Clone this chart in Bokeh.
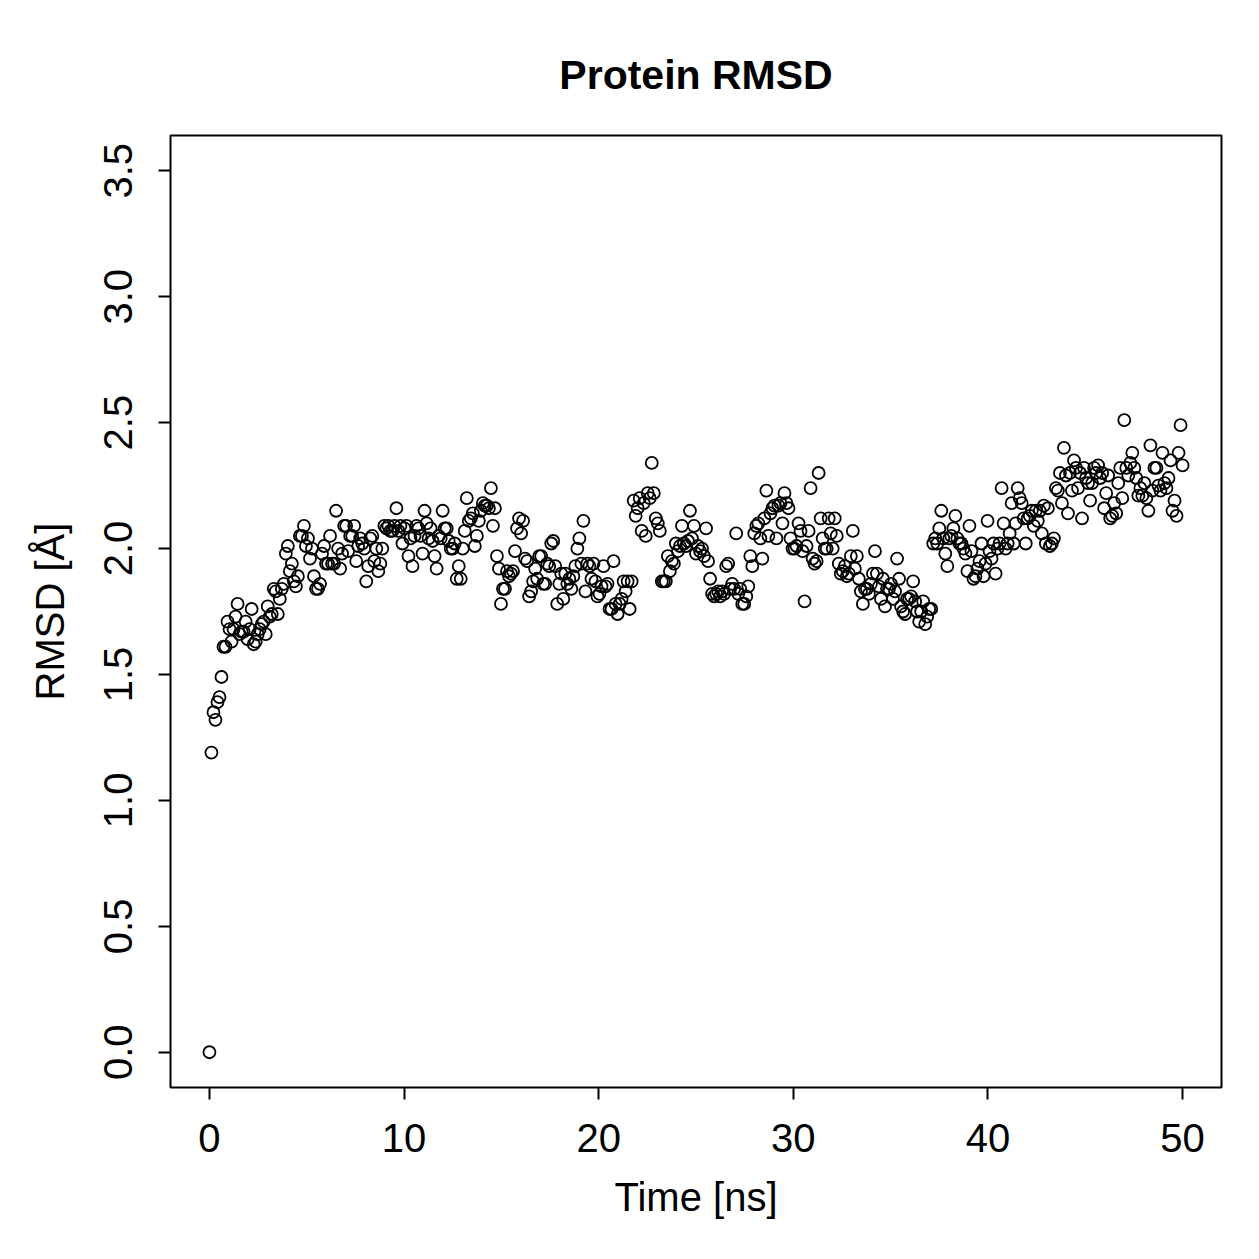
import numpy as np
from bokeh.plotting import figure
from bokeh.models import Range1d, FixedTicker, ColumnDataSource, NumeralTickFormatter
from bokeh.embed import file_html
from bokeh.resources import INLINE

rmsd = [
    0.00, 1.19, 1.35, 1.32, 1.39, 1.41, 1.49, 1.61, 1.61, 1.71, 1.68, 1.63, 1.68, 1.73, 1.78, 1.66,
    1.67, 1.67, 1.71, 1.64, 1.68, 1.76, 1.62, 1.63, 1.66, 1.68, 1.70, 1.71, 1.66, 1.77, 1.73, 1.74,
    1.84, 1.83, 1.74, 1.80, 1.84, 1.86, 1.98, 2.01, 1.91, 1.94, 1.87, 1.85, 1.89, 2.05, 2.05, 2.09,
    2.01, 2.04, 1.96, 2.00, 1.89, 1.84, 1.84, 1.86, 1.98, 2.01, 1.94, 1.94, 2.05, 1.94, 1.94, 2.15,
    2.00, 1.92, 1.98, 2.09, 2.09, 1.99, 2.05, 2.05, 2.09, 1.95, 2.01, 2.04, 2.02, 2.00, 1.87, 1.93,
    2.04, 2.05, 1.95, 2.00, 1.91, 1.94, 2.00, 2.09, 2.08, 2.09, 2.07, 2.07, 2.09, 2.16, 2.07, 2.09,
    2.02, 2.08, 2.09, 1.97, 2.04, 1.93, 2.05, 2.09, 2.08, 2.05, 1.98, 2.15, 2.10, 2.04, 2.08, 2.03,
    1.97, 1.92, 2.05, 2.04, 2.15, 2.08, 2.08, 2.03, 2.00, 2.00, 2.02, 1.88, 1.93, 1.88, 2.00, 2.07,
    2.20, 2.11, 2.12, 2.14, 2.01, 2.05, 2.11, 2.15, 2.18, 2.17, 2.17, 2.16, 2.24, 2.09, 2.16, 1.97,
    1.92, 1.78, 1.84, 1.84, 1.91, 1.89, 1.90, 1.91, 1.99, 2.08, 2.12, 2.06, 2.11, 1.96, 1.95, 1.81,
    1.83, 1.87, 1.92, 1.88, 1.97, 1.97, 1.86, 1.86, 1.94, 1.93, 2.02, 2.03, 1.93, 1.78, 1.86, 1.90,
    1.80, 1.90, 1.86, 1.88, 1.84, 1.89, 1.93, 2.00, 2.04, 1.94, 2.11, 1.83, 1.94, 1.93, 1.88, 1.94,
    1.87, 1.81, 1.82, 1.85, 1.93, 1.85, 1.86, 1.76, 1.76, 1.95, 1.78, 1.74, 1.78, 1.80, 1.87, 1.83,
    1.87, 1.76, 1.87, 2.19, 2.13, 2.16, 2.20, 2.07, 2.18, 2.05, 2.22, 2.20, 2.34, 2.22, 2.12, 2.10,
    2.07, 1.87, 1.87, 1.87, 1.97, 1.91, 1.95, 1.94, 2.02, 1.99, 2.01, 2.09, 2.02, 2.01, 2.03, 2.15,
    2.04, 2.09, 1.98, 2.01, 1.99, 2.00, 1.97, 2.08, 1.95, 1.88, 1.82, 1.81, 1.82, 1.83, 1.81, 1.83,
    1.82, 1.93, 1.94, 1.84, 1.86, 1.84, 2.06, 1.82, 1.84, 1.78, 1.78, 1.81, 1.85, 1.97, 1.93, 2.06,
    2.09, 2.10, 2.04, 1.96, 2.12, 2.23, 2.05, 2.14, 2.16, 2.17, 2.04, 2.17, 2.18, 2.10, 2.22, 2.18,
    2.16, 2.04, 2.00, 2.00, 2.01, 2.10, 2.07, 1.99, 1.79, 2.01, 2.07, 2.24, 1.96, 1.94, 1.95, 2.30,
    2.12, 2.04, 2.00, 2.00, 2.12, 2.06, 2.00, 2.12, 2.05, 1.94, 1.90, 1.91, 1.93, 1.89, 1.90, 1.97,
    2.07, 1.92, 1.97, 1.88, 1.83, 1.78, 1.84, 1.84, 1.82, 1.86, 1.90, 1.99, 1.90, 1.85, 1.80, 1.88,
    1.77, 1.84, 1.84, 1.86, 1.80, 1.83, 1.96, 1.88, 1.77, 1.75, 1.74, 1.80, 1.80, 1.81, 1.87, 1.79,
    1.75, 1.71, 1.75, 1.79, 1.70, 1.73, 1.76, 1.76, 2.02, 2.04, 2.02, 2.08, 2.15, 2.04, 1.98, 1.93,
    2.04, 2.05, 2.08, 2.13, 2.04, 2.02, 2.02, 2.00, 1.98, 1.91, 2.09, 1.99, 1.88, 1.89, 1.92, 1.95,
    2.02, 1.89, 1.94, 2.11, 1.99, 1.96, 2.02, 1.90, 2.00, 2.02, 2.24, 2.10, 2.00, 2.02, 2.06, 2.18,
    2.02, 2.10, 2.24, 2.20, 2.18, 2.12, 2.02, 2.12, 2.13, 2.15, 2.09, 2.15, 2.11, 2.15, 2.06, 2.17,
    2.02, 2.16, 2.01, 2.02, 2.04, 2.24, 2.23, 2.30, 2.18, 2.40, 2.29, 2.14, 2.30, 2.23, 2.35, 2.32,
    2.24, 2.30, 2.12, 2.32, 2.28, 2.26, 2.19, 2.26, 2.32, 2.30, 2.33, 2.28, 2.30, 2.16, 2.22, 2.29,
    2.12, 2.13, 2.18, 2.14, 2.26, 2.32, 2.20, 2.51, 2.32, 2.29, 2.34, 2.38, 2.32, 2.28, 2.21, 2.24,
    2.21, 2.26, 2.20, 2.15, 2.41, 2.23, 2.32, 2.32, 2.25, 2.23, 2.38, 2.26, 2.24, 2.28, 2.35, 2.15,
    2.19, 2.13, 2.38, 2.49, 2.33,
]
time_ns = np.linspace(0.0, 50.0, len(rmsd))

x_ticks = [0, 10, 20, 30, 40, 50]
y_ticks = [0.0, 0.5, 1.0, 1.5, 2.0, 2.5, 3.0, 3.5]

FONT = "Liberation Sans"

p = figure(
    width=1259, height=1259,
    output_backend="svg", toolbar_location=None,
    x_range=Range1d(-2, 52), y_range=Range1d(-0.14, 3.64),
    min_border_left=170, min_border_right=38,
    min_border_top=135, min_border_bottom=172,
    title="Protein RMSD",
)
p.background_fill_color = "white"
p.border_fill_color = "white"
p.outline_line_color = "black"
p.outline_line_width = 2
p.grid.visible = False

p.title.align = "center"
p.title.text_font = FONT
p.title.text_font_size = "41px"
p.title.text_font_style = "bold"
p.title.text_color = "black"
p.title.standoff = 76

src = ColumnDataSource(dict(t=time_ns, r=rmsd))
p.scatter("t", "r", source=src, size=12, marker="circle",
          fill_color=None, line_color="black", line_width=1.8)

for ax in (p.xaxis[0], p.yaxis[0]):
    ax.axis_line_color = None
    ax.major_tick_line_color = "black"
    ax.major_tick_line_width = 2
    ax.major_tick_out = 12
    ax.major_tick_in = 0
    ax.minor_tick_line_color = None
    ax.major_label_text_font = FONT
    ax.major_label_text_font_size = "40px"
    ax.major_label_text_color = "black"
    ax.axis_label_text_font = FONT
    ax.axis_label_text_font_size = "40px"
    ax.axis_label_text_font_style = "normal"
    ax.axis_label_text_color = "black"

p.xaxis.ticker = FixedTicker(ticks=x_ticks)
p.yaxis.ticker = FixedTicker(ticks=y_ticks)
p.yaxis.formatter = NumeralTickFormatter(format="0.0")
p.yaxis.major_label_orientation = "vertical"
p.xaxis.axis_label = "Time [ns]"
p.yaxis.axis_label = "RMSD [Å]"
p.xaxis.major_label_standoff = 24
p.xaxis.axis_label_standoff = 20
p.yaxis.major_label_standoff = 26
p.yaxis.axis_label_standoff = 30

open("out.html", "w").write(file_html(p, INLINE))
